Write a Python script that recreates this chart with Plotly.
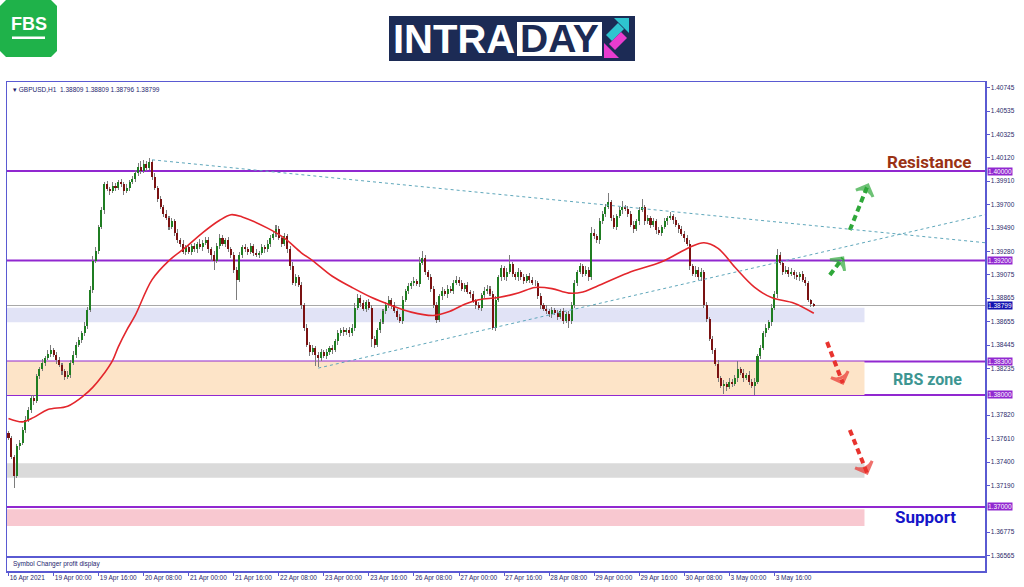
import plotly.graph_objects as go

W, H = 1024, 587

# ---------------- data ----------------
first_open = 1.3766
close = [
    1.3762, 1.3745, 1.3728, 1.3754, 1.3757, 1.3769, 1.3778, 1.3787, 1.3797, 1.3795,
    1.3817, 1.3823, 1.3829, 1.3833, 1.3837, 1.3840, 1.3836, 1.3831, 1.3827, 1.3821,
    1.3816, 1.3818, 1.3829, 1.3836, 1.3845, 1.3849, 1.3855, 1.3862, 1.3876, 1.3894,
    1.3920, 1.3929, 1.3950, 1.3965, 1.3988, 1.3984, 1.3982, 1.3987, 1.3985, 1.3990,
    1.3988, 1.3982, 1.3985, 1.3990, 1.3993, 1.3998, 1.4004, 1.4000, 1.4006, 1.4003,
    1.4008, 1.3995, 1.3985, 1.3975, 1.3968, 1.3962, 1.3958, 1.3950, 1.3955, 1.3945,
    1.3938, 1.3935, 1.3928, 1.3932, 1.3928, 1.3933, 1.3930, 1.3935, 1.3932, 1.3936,
    1.3938, 1.3930, 1.3925, 1.3920, 1.3933, 1.3940, 1.3935, 1.3938, 1.3930, 1.3925,
    1.3912, 1.3903, 1.3925, 1.3932, 1.3930, 1.3928, 1.3933, 1.3927, 1.3925, 1.3927,
    1.3932, 1.3930, 1.3935, 1.3940, 1.3944, 1.3948, 1.3940, 1.3935, 1.3942, 1.3930,
    1.3915, 1.3900, 1.3905, 1.3898, 1.3880, 1.3860, 1.3845, 1.3838, 1.3842, 1.3836,
    1.3833, 1.3838, 1.3835, 1.3838, 1.3842, 1.3840, 1.3848, 1.3855, 1.3858, 1.3856,
    1.3858, 1.3855, 1.3860, 1.3878, 1.3887, 1.3882, 1.3877, 1.3883, 1.3878, 1.3850,
    1.3845, 1.3858, 1.3865, 1.3875, 1.3880, 1.3885, 1.3880, 1.3875, 1.3870, 1.3866,
    1.3885, 1.3893, 1.3897, 1.3900, 1.3902, 1.3899, 1.3918, 1.3922, 1.3910, 1.3905,
    1.3895, 1.3880, 1.3867, 1.3888, 1.3893, 1.3890, 1.3895, 1.3893, 1.3900, 1.3903,
    1.3900, 1.3895, 1.3898, 1.3892, 1.3890, 1.3884, 1.3880, 1.3878, 1.3889, 1.3893,
    1.3895, 1.3890, 1.3860, 1.3885, 1.3905, 1.3913, 1.3905, 1.3910, 1.3917, 1.3908,
    1.3905, 1.3910, 1.3905, 1.3902, 1.3906, 1.3903, 1.3900, 1.3900, 1.3888, 1.3880,
    1.3877, 1.3875, 1.3872, 1.3876, 1.3873, 1.3870, 1.3875, 1.3866, 1.3872, 1.3866,
    1.3880, 1.3900, 1.3910, 1.3915, 1.3908, 1.3912, 1.3905, 1.3945, 1.3942, 1.3938,
    1.3955, 1.3962, 1.3968, 1.3972, 1.3958, 1.3950, 1.3960, 1.3965, 1.3968, 1.3966,
    1.3962, 1.3952, 1.3948, 1.3955, 1.3965, 1.3968, 1.3955, 1.3958, 1.3952, 1.3955,
    1.3947, 1.3945, 1.3950, 1.3955, 1.3958, 1.3960, 1.3956, 1.3952, 1.3948, 1.3944,
    1.3940, 1.3935, 1.3915, 1.3908, 1.3912, 1.3905, 1.3910, 1.3880, 1.3868, 1.3850,
    1.3840, 1.3828, 1.3815, 1.3808, 1.3810, 1.3807, 1.3812, 1.3810, 1.3815, 1.3823,
    1.3820, 1.3815, 1.3818, 1.3812, 1.3808, 1.3812, 1.3835, 1.3842, 1.3855, 1.3860,
    1.3865, 1.3878, 1.3890, 1.3925, 1.3918, 1.3910, 1.3912, 1.3908, 1.3910, 1.3907,
    1.3905, 1.3908, 1.3903, 1.3900, 1.3885, 1.3881, 1.38799,
]
wick_up_pips = [
    2, 1, 1, 2, 3, 2, 3, 2, 3, 3, 2, 2, 3, 2, 3, 5, 2, 2, 3, 2,
    2, 3, 2, 3, 2, 3, 2, 3, 3, 3, 4, 3, 2, 3, 2, 3, 2, 3, 2, 2,
    3, 2, 3, 2, 3, 3, 3, 5, 4, 3, 4, 2, 3, 2, 3, 2, 3, 2, 3, 2,
    3, 2, 3, 2, 3, 2, 3, 2, 4, 2, 3, 3, 2, 4, 3, 4, 3, 2, 3, 2,
    3, 2, 3, 2, 3, 2, 3, 2, 3, 2, 3, 2, 3, 3, 2, 4, 3, 2, 3, 2,
    3, 4, 3, 2, 3, 2, 3, 2, 3, 2, 2, 3, 2, 3, 2, 3, 2, 3, 2, 3,
    2, 3, 3, 4, 3, 2, 3, 2, 3, 2, 3, 2, 3, 2, 3, 3, 2, 3, 2, 2,
    3, 2, 3, 2, 3, 2, 5, 7, 3, 2, 3, 2, 3, 2, 3, 2, 3, 2, 3, 3,
    2, 3, 2, 3, 2, 3, 2, 3, 2, 3, 3, 2, 3, 3, 2, 3, 2, 3, 8, 2,
    2, 3, 2, 3, 2, 3, 2, 3, 2, 3, 2, 3, 2, 3, 2, 3, 2, 3, 2, 3,
    3, 3, 2, 3, 2, 3, 2, 5, 3, 2, 3, 2, 3, 8, 2, 3, 2, 3, 5, 2,
    3, 2, 3, 2, 3, 7, 2, 3, 2, 3, 2, 3, 2, 3, 2, 3, 2, 3, 2, 3,
    2, 3, 3, 2, 3, 2, 3, 2, 3, 2, 3, 2, 3, 2, 3, 2, 3, 2, 3, 7,
    2, 3, 2, 3, 2, 3, 2, 3, 2, 3, 2, 3, 3, 5, 3, 2, 3, 2, 3, 2,
    3, 2, 3, 2, 2, 1, 1,
]
wick_dn_pips = [
    2, 2, 11, 2, 3, 2, 3, 2, 3, 4, 2, 3, 2, 3, 2, 3, 2, 3, 2, 3,
    3, 2, 3, 2, 3, 2, 3, 2, 3, 2, 3, 2, 3, 2, 3, 2, 3, 2, 3, 2,
    2, 3, 2, 3, 2, 3, 2, 3, 2, 3, 2, 3, 2, 3, 2, 3, 2, 3, 2, 3,
    2, 3, 2, 3, 2, 3, 2, 3, 2, 3, 2, 3, 5, 8, 2, 3, 2, 3, 2, 3,
    3, 18, 2, 3, 2, 3, 2, 3, 2, 3, 2, 3, 2, 3, 2, 3, 2, 3, 2, 3,
    3, 2, 3, 2, 3, 3, 2, 3, 2, 10, 8, 3, 2, 3, 2, 3, 2, 3, 2, 3,
    2, 3, 2, 3, 2, 3, 2, 3, 2, 7, 3, 2, 3, 2, 3, 2, 3, 2, 3, 2,
    3, 2, 3, 2, 3, 2, 3, 2, 3, 2, 3, 2, 3, 2, 3, 2, 3, 2, 3, 2,
    3, 2, 3, 2, 3, 2, 3, 2, 3, 2, 3, 2, 2, 3, 2, 3, 2, 3, 2, 3,
    2, 3, 2, 3, 2, 3, 2, 3, 2, 3, 2, 3, 2, 3, 2, 3, 2, 3, 2, 6,
    3, 2, 3, 2, 3, 2, 3, 2, 3, 2, 3, 2, 3, 2, 3, 2, 3, 2, 3, 2,
    3, 2, 3, 2, 3, 2, 3, 2, 3, 2, 3, 2, 3, 2, 3, 2, 3, 2, 3, 2,
    3, 2, 3, 2, 3, 2, 3, 2, 3, 2, 3, 2, 3, 2, 7, 3, 2, 3, 2, 3,
    2, 3, 2, 3, 2, 8, 2, 3, 2, 3, 2, 3, 2, 3, 2, 3, 2, 3, 2, 3,
    2, 3, 2, 3, 2, 2, 1,
]

# moving average (red line), read at bar indices
ma_idx = [0, 5, 9, 14, 21, 27, 30, 33, 37, 39, 42, 45, 51, 57, 63, 69, 75, 79, 83, 92,
          98, 104, 108, 115, 122, 129, 136, 143, 151, 156, 162, 167, 174, 181, 187, 193,
          199, 204, 208, 220, 232, 242, 247, 252, 258, 265, 271, 279, 286]
ma_val = [1.3779, 1.3776, 1.3780, 1.3787, 1.3790, 1.3800, 1.3807, 1.3816, 1.3831, 1.3843,
          1.3858, 1.3871, 1.3903, 1.3920, 1.3932, 1.3945, 1.3956, 1.3961, 1.3959, 1.3949,
          1.3940, 1.3927, 1.3920, 1.3906, 1.3896, 1.3887, 1.3880, 1.3874, 1.3871, 1.3874,
          1.3881, 1.3885, 1.3887, 1.3891, 1.3896, 1.3895, 1.3891, 1.3892, 1.3896, 1.3909,
          1.3919, 1.3932, 1.3936, 1.3931, 1.3914, 1.3896, 1.3887, 1.3882, 1.3873]

x_tick_idx = [0, 16, 32, 48, 64, 80, 96, 112, 128, 144, 160, 176, 192, 208, 224, 240, 256, 272]
x_tick_text = ["16 Apr 2021", "19 Apr 00:00", "19 Apr 16:00", "20 Apr 08:00", "21 Apr 00:00",
               "21 Apr 16:00", "22 Apr 08:00", "23 Apr 00:00", "23 Apr 16:00", "26 Apr 08:00",
               "27 Apr 00:00", "27 Apr 16:00", "28 Apr 08:00", "29 Apr 00:00", "29 Apr 16:00",
               "30 Apr 08:00", "3 May 00:00", "3 May 16:00"]
y_ticks = [1.40745, 1.40535, 1.40325, 1.40120, 1.39910, 1.39700, 1.39490, 1.39280, 1.39075,
           1.38865, 1.38655, 1.38445, 1.38235, 1.37820, 1.37610, 1.37400, 1.37190,
           1.36775, 1.36565]

levels = [1.40000, 1.39200, 1.38300, 1.38000, 1.37000]
last_price = 1.38799

zones = [  # (low, high, colour)
    (1.3865, 1.3878, "#e1e3f6"),
    (1.3800, 1.3830, "#fde4c8"),
    (1.3726, 1.3739, "#dadada"),
    (1.3683, 1.3698, "#f8c8d0"),
]
zone_end_idx = 304

trend_lines = [  # (x0, y0, x1, y1)
    (51, 1.4010, 346.8, 1.3936),
    (110, 1.3824, 346.8, 1.3961),
]

green_arrows = [((291.7, 1.39071), (296.3, 1.39223)), ((298.8, 1.39473), (305.2, 1.39875))]
red_arrows = [((290.7, 1.38473), (296.3, 1.38107)), ((298.8, 1.37688), (304.9, 1.37304))]

# ---------------- derived ----------------
n = len(close)
idx = list(range(n))
open_ = [first_open] + close[:-1]
high = [max(o, c) + u / 10000 for o, c, u in zip(open_, close, wick_up_pips)]
low = [min(o, c) - d / 10000 for o, c, d in zip(open_, close, wick_dn_pips)]
body_base = [min(o, c) for o, c in zip(open_, close)]
body_len = [max(abs(c - o), 0.00004) for o, c in zip(open_, close)]
body_col = ["#1f7d22" if c >= o else "#7a1212" for o, c in zip(open_, close)]
wick_len = [h - l for h, l in zip(high, low)]

XR = [-0.53, 346.8]
YR = [1.36562, 1.40795]
FRAME = "#5a5ad2"
PURPLE = "#9128d0"


def px(x):
    return x / W


def py(y):
    return 1 - y / H


fig = go.Figure()

# candles: gray wick bars, coloured body bars on top
fig.add_trace(go.Bar(x=idx, y=wick_len, base=low, width=0.36,
                     marker=dict(color="#7c7c7c", line=dict(width=0)), hoverinfo="skip", showlegend=False))
fig.add_trace(go.Bar(x=idx, y=body_len, base=body_base, width=0.72,
                     marker=dict(color=body_col, line=dict(width=0)), hoverinfo="skip", showlegend=False))

fig.add_trace(go.Scatter(x=ma_idx, y=ma_val, mode="lines", line=dict(color="#e3262c", width=1.6, shape="spline"),
                         hoverinfo="skip", showlegend=False))

for (a, b), col in [(g, "#2fa83a") for g in green_arrows] + [(r, "#e8332e") for r in red_arrows]:
    fig.add_trace(go.Scatter(
        x=[a[0], b[0]], y=[a[1], b[1]], mode="lines+markers",
        line=dict(color=col, width=4, dash="6px,4px"),
        marker=dict(symbol=["circle", "arrow-wide-open"], size=[0.1, 13], color=col,
                    angleref="previous", line=dict(color=col, width=3)),
        hoverinfo="skip", showlegend=False,
    ))

# subwindow dummy trace
fig.add_trace(go.Scatter(x=[0], y=[0.5], mode="markers", marker=dict(size=0.1, color="rgba(0,0,0,0)"),
                         xaxis="x2", yaxis="y2", hoverinfo="skip", showlegend=False))

shapes = []
for lo, hi, col in zones:
    shapes.append(dict(type="rect", xref="x", yref="y", x0=XR[0], x1=zone_end_idx, y0=lo, y1=hi,
                       fillcolor=col, line=dict(width=0), layer="below"))
for lv in levels:
    shapes.append(dict(type="line", xref="paper", yref="y", x0=px(7), x1=px(985), y0=lv, y1=lv,
                       line=dict(color=PURPLE, width=2), layer="below"))
shapes.append(dict(type="line", xref="paper", yref="y", x0=px(7), x1=px(985), y0=last_price, y1=last_price,
                   line=dict(color="#a8a8a8", width=1), layer="below"))
for x0, y0, x1, y1 in trend_lines:
    shapes.append(dict(type="line", xref="x", yref="y", x0=x0, y0=y0, x1=x1, y1=y1,
                       line=dict(color="#5fa7bb", width=1, dash="dot")))


def poly(points):
    s = "M " + " L ".join(f"{px(x):.5f},{py(y):.5f}" for x, y in points) + " Z"
    return s


# FBS logo
shapes.append(dict(type="path", xref="paper", yref="paper",
                   path=poly([(6, 0), (51, 0), (57, 6), (57, 51), (51, 57), (6, 57), (0, 51), (0, 6)]),
                   fillcolor="#1fb24a", line=dict(width=0)))
shapes.append(dict(type="rect", xref="paper", yref="paper", x0=px(12), x1=px(45), y0=py(39), y1=py(36.5),
                   fillcolor="white", line=dict(width=0)))
# INTRADAY banner
shapes.append(dict(type="rect", xref="paper", yref="paper", x0=px(389), x1=px(635), y0=py(61), y1=py(16),
                   fillcolor="#1c2b55", line=dict(width=0)))
shapes.append(dict(type="rect", xref="paper", yref="paper", x0=px(517), x1=px(602), y0=py(56), y1=py(22),
                   fillcolor="white", line=dict(width=0)))
shapes.append(dict(type="path", xref="paper", yref="paper",
                   path=poly([(629, 18), (629, 33), (614, 18)]), fillcolor="#2ec4cf", line=dict(width=0)))
shapes.append(dict(type="path", xref="paper", yref="paper",
                   path=poly([(606, 35), (612, 41), (624, 29), (618, 23)]), fillcolor="#2ec4cf", line=dict(width=0)))
shapes.append(dict(type="path", xref="paper", yref="paper",
                   path=poly([(604, 58), (604, 43), (619, 58)]), fillcolor="#e83ccf", line=dict(width=0)))
shapes.append(dict(type="path", xref="paper", yref="paper",
                   path=poly([(621, 32), (627, 38), (615, 50), (609, 44)]), fillcolor="#e83ccf", line=dict(width=0)))

annotations = []
for lv in levels:
    annotations.append(dict(xref="paper", yref="y", x=px(987), y=lv, xanchor="left", yanchor="middle",
                            text=f"{lv:.5f}", showarrow=False, bgcolor=PURPLE, borderpad=0,
                            font=dict(family="Liberation Sans", size=6.5, color="white")))
annotations.append(dict(xref="paper", yref="y", x=px(987), y=last_price, xanchor="left", yanchor="middle",
                        text=f"{last_price:.5f}", showarrow=False, bgcolor="#1212b0", borderpad=0,
                        font=dict(family="Liberation Sans", size=6.5, color="white")))
annotations += [
    dict(xref="paper", yref="paper", x=px(11), y=py(89), xanchor="left", yanchor="middle",
         text="▾ GBPUSD,H1  1.38809 1.38809 1.38796 1.38799", showarrow=False,
         font=dict(family="Liberation Sans", size=6.5, color="#1e1e6e")),
    dict(xref="paper", yref="paper", x=px(11), y=py(564), xanchor="left", yanchor="middle",
         text="Symbol Changer profit display", showarrow=False,
         font=dict(family="Liberation Sans", size=6.5, color="#1e1e6e")),
    dict(xref="paper", yref="paper", x=px(929), y=py(162), xanchor="center", yanchor="middle",
         text="<b>Resistance</b>", showarrow=False, font=dict(family="Roboto", size=17, color="#9a3214")),
    dict(xref="paper", yref="paper", x=px(927), y=py(380), xanchor="center", yanchor="middle",
         text="<b>RBS zone</b>", showarrow=False, font=dict(family="Roboto", size=16, color="#3d9692")),
    dict(xref="paper", yref="paper", x=px(925), y=py(517), xanchor="center", yanchor="middle",
         text="<b>Support</b>", showarrow=False, font=dict(family="Roboto", size=17, color="#1515c8")),
    dict(xref="paper", yref="paper", x=px(28.5), y=py(24), xanchor="center", yanchor="middle",
         text="<b>FBS</b>", showarrow=False, font=dict(family="Liberation Sans", size=18, color="white")),
    dict(xref="paper", yref="paper", x=px(391), y=py(38.5), xanchor="left", yanchor="middle",
         text="<b>INTRA</b>", showarrow=False, font=dict(family="Liberation Sans", size=40, color="white")),
    dict(xref="paper", yref="paper", x=px(559.5), y=py(39), xanchor="center", yanchor="middle",
         text="<b>DAY</b>", showarrow=False, font=dict(family="Liberation Sans", size=39, color="#1c2b55")),
]

fig.update_layout(
    width=W, height=H, margin=dict(l=0, r=0, t=0, b=0, autoexpand=False),
    paper_bgcolor="white", plot_bgcolor="white", showlegend=False, barmode="overlay", bargap=0,
    shapes=shapes, annotations=annotations,
    xaxis=dict(domain=[px(7), px(985)], range=XR, showticklabels=False, showgrid=False, zeroline=False,
               showline=True, mirror=True, linecolor=FRAME, linewidth=1.5,
               anchor="y", fixedrange=True, automargin=False),
    yaxis=dict(domain=[1 - 556 / H, 1 - 82 / H], range=YR, side="right", tickvals=y_ticks,
               ticktext=[f"{v:.5f}" for v in y_ticks], ticks="outside", ticklen=3, tickcolor=FRAME,
               tickfont=dict(family="Liberation Sans", size=6.5, color="#2a2a6a"), showgrid=False,
               zeroline=False, showline=True, mirror=True, linecolor=FRAME, linewidth=1.5, anchor="x",
               automargin=False),
    xaxis2=dict(domain=[px(7), px(985)], range=XR, tickvals=x_tick_idx, ticktext=x_tick_text,
                ticks="outside", ticklen=3, tickcolor=FRAME, ticklabelposition="outside right", tickangle=0,
                tickfont=dict(family="Liberation Sans", size=6.5, color="#2a2a6a"), showgrid=False,
                zeroline=False, showline=True, mirror=True, linecolor=FRAME, linewidth=1.5, anchor="y2",
                automargin=False),
    yaxis2=dict(domain=[1 - 571 / H, 1 - 557 / H], range=[0, 1], showticklabels=False, showgrid=False,
                zeroline=False, showline=True, mirror=True, linecolor=FRAME, linewidth=1.5, anchor="x2",
                automargin=False),
)

fig.write_html("out.html", config={"staticPlot": True},
               post_script="document.body.style.margin='0';document.body.style.padding='0';")
